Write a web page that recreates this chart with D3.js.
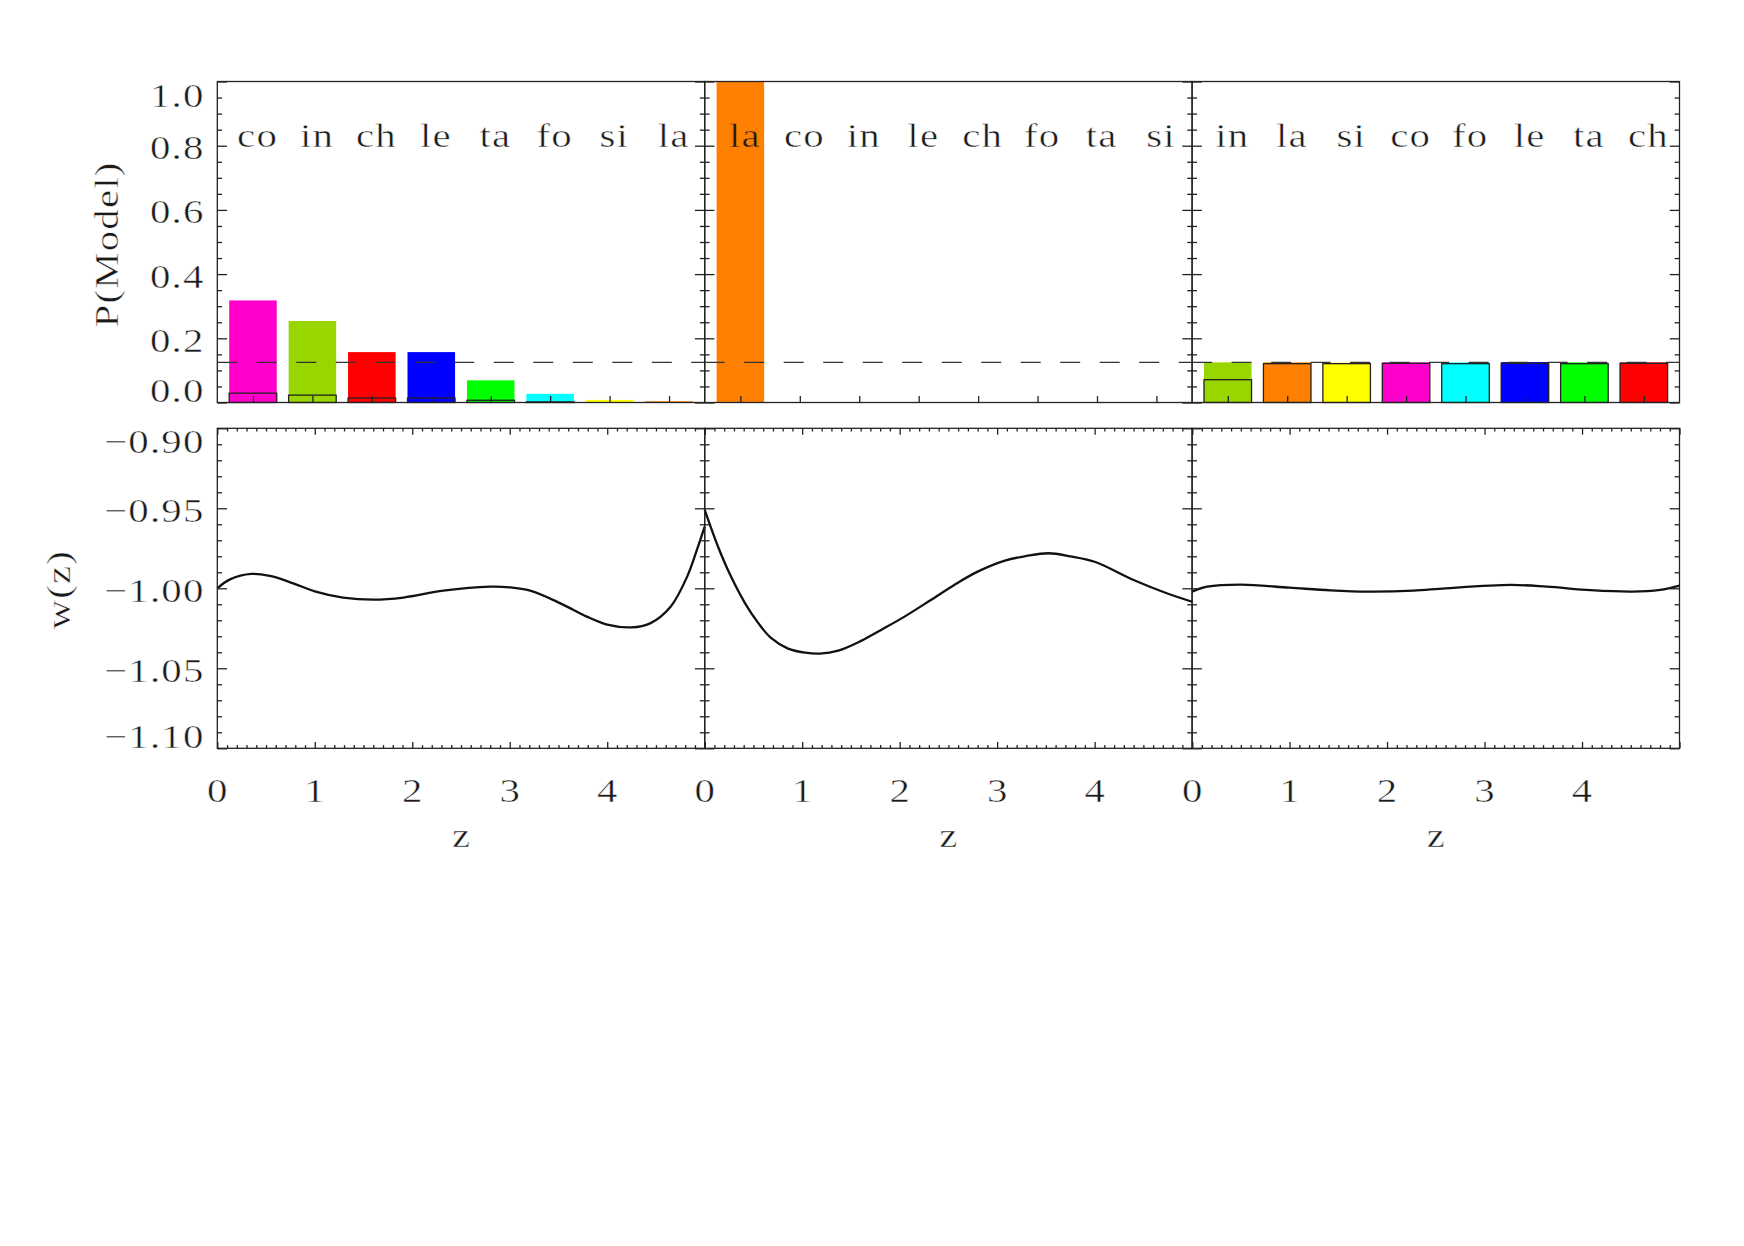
<!DOCTYPE html>
<html>
<head>
<meta charset="utf-8">
<script src="https://cdn.jsdelivr.net/npm/d3@7/dist/d3.min.js"></script>
<style>
  body { margin: 0; background: #fff; }
  text { font-family: "Liberation Serif", "DejaVu Serif", serif; fill: #1a1a1a; stroke-width: 0.5px; }
</style>
</head>
<body>
<div id="graph_holder"></div>
<script>
// models and their colours
var models = ["co", "in", "ch", "le", "ta", "fo", "si", "la"];
var modelColors = ["#ff00cc", "#99d600", "#ff0000", "#0000ff", "#00ff00", "#00ffff", "#ffff00", "#ff8000"];

// top row: posterior P(Model) per panel (filled) and the outlined bars
var order1 = ["co", "in", "ch", "le", "ta", "fo", "si", "la"];
var post1 = [0.318, 0.254, 0.157, 0.157, 0.069, 0.027, 0.008, 0.004];
var outl1 = [0.029, 0.023, 0.014, 0.014, 0.007, 0.002, 0, 0];

var order2 = ["la", "co", "in", "le", "ch", "fo", "ta", "si"];
var post2 = [1.0, 0, 0, 0, 0, 0, 0, 0];
var outl2 = [0, 0, 0, 0, 0, 0, 0, 0];

var order3 = ["in", "la", "si", "co", "fo", "le", "ta", "ch"];
var post3 = [0.125, 0.125, 0.124, 0.125, 0.125, 0.126, 0.125, 0.125];
var outl3 = [0.071, 0.121, 0.121, 0.122, 0.121, 0.122, 0.121, 0.122];

var priorLevel = 0.125;

// bottom row: w(z) curves
var z1 = [0, 0.13, 0.35, 0.54, 0.78, 1.0, 1.29, 1.6, 1.91, 2.32, 2.8, 3.0, 3.21, 3.52, 3.79, 4.0, 4.25, 4.44, 4.65, 4.82, 4.92, 5.0];
var w1 = [-1.000, -0.9944, -0.9910, -0.9923, -0.9969, -1.0019, -1.0058, -1.0071, -1.0058, -1.0015, -0.9990, -0.9994, -1.0015, -1.0094, -1.0177, -1.0227, -1.0244, -1.0219, -1.0115, -0.9927, -0.976, -0.9615];

var z2 = [0, 0.137, 0.27, 0.41, 0.55, 0.68, 0.855, 1.03, 1.18, 1.37, 1.61, 1.81, 2.05, 2.32, 2.56, 2.80, 3.08, 3.3, 3.525, 3.75, 4.0, 4.4, 4.74, 5.0];
var w2 = [-0.951, -0.974, -0.9927, -1.0089, -1.0218, -1.0310, -1.0377, -1.0402, -1.0408, -1.039, -1.0327, -1.026, -1.0177, -1.0073, -0.9979, -0.9896, -0.9827, -0.9798, -0.9781, -0.9800, -0.9834, -0.9948, -1.0031, -1.0084];

var z3 = [0, 0.154, 0.5, 1.0, 1.42, 1.8, 2.27, 2.6, 3.27, 3.64, 4.09, 4.51, 4.8, 5.0];
var w3 = [-1.0021, -0.999, -0.9977, -0.9996, -1.0013, -1.0021, -1.0015, -1.000, -0.9979, -0.999, -1.0012, -1.0021, -1.0010, -0.9983];

var pTicks = [0, 0.2, 0.4, 0.6, 0.8, 1.0];
var pLabels = ["0.0", "0.2", "0.4", "0.6", "0.8", "1.0"];
var wTicks = [-1.10, -1.05, -1.00, -0.95, -0.90];
var wLabels = ["\u22121.10", "\u22121.05", "\u22121.00", "\u22120.95", "\u22120.90"];
var zTicks = [0, 1, 2, 3, 4];
var zLabels = ["0", "1", "2", "3", "4"];

var panels = [
  {order: order1, post: post1, outl: outl1, z: z1, w: w1},
  {order: order2, post: post2, outl: outl2, z: z2, w: w2},
  {order: order3, post: post3, outl: outl3, z: z3, w: w3}
];

// layout
var width = 1744, height = 1246;
var left = 217.3, panelW = 487.4;
var topY0 = 81.5, topY1 = 402.5;
var botY0 = 428.3, botY1 = 748.3;
var labelY = 146.5;
var ink = "#222";
var fs = 34, ls = 1, sx = 1.2; // IDL hershey text is wide, stretch it

var svg = d3.select("#graph_holder").append("svg")
    .attr("width", width)
    .attr("height", height);
svg.append("rect").attr("width", width).attr("height", height).attr("fill", "#fff");

var pY = d3.scaleLinear().domain([0, 1]).range([topY1, topY0]);
var wY = d3.scaleLinear().domain([-1.10, -0.90]).range([botY1, botY0]);
var colorOf = d3.scaleOrdinal().domain(models).range(modelColors);

var pMinor = d3.range(0, 1.0001, 0.05).filter(function(v){ return Math.abs(v * 5 - Math.round(v * 5)) > 1e-6 });
var wMinor = d3.range(-1.10, -0.8999, 0.01).filter(function(v){ return Math.abs(v * 20 - Math.round(v * 20)) > 1e-6 });
var zMinor = d3.range(0, 5.0001, 0.1).filter(function(v){ return Math.abs(v - Math.round(v)) > 1e-6 });

// stretched text; anchor "middle"/"end" corrected for trailing letter spacing
// a thin stroke in the background colour makes the glyphs lighter
function label(x, y, str, anchor, rot, bg){
  var dx = anchor == "middle" ? ls / 2 : (anchor == "end" ? ls : 0);
  svg.append("text")
    .attr("transform", "translate(" + x + "," + y + ")" + (rot ? " rotate(" + rot + ")" : "") + " scale(" + sx + ",1)")
    .attr("x", dx)
    .attr("text-anchor", anchor)
    .attr("font-size", fs)
    .attr("letter-spacing", ls)
    .attr("stroke", bg || "#fff")
    .text(str);
}

function styleAxis(g){
  g.select(".domain").remove();
  g.selectAll(".tick line").attr("stroke", ink).attr("stroke-width", 1.3);
  g.selectAll(".tick text").remove();
}

// ticks pointing into the panel on both y sides
function yTicks(y, x0, x1, majors, minors, len){
  svg.append("g").attr("transform", "translate(" + x0 + ",0)")
    .call(d3.axisRight(y).tickValues(majors).tickSize(len).tickSizeOuter(0)).call(styleAxis);
  svg.append("g").attr("transform", "translate(" + x0 + ",0)")
    .call(d3.axisRight(y).tickValues(minors).tickSize(len / 2).tickSizeOuter(0)).call(styleAxis);
  svg.append("g").attr("transform", "translate(" + x1 + ",0)")
    .call(d3.axisLeft(y).tickValues(majors).tickSize(len).tickSizeOuter(0)).call(styleAxis);
  svg.append("g").attr("transform", "translate(" + x1 + ",0)")
    .call(d3.axisLeft(y).tickValues(minors).tickSize(len / 2).tickSizeOuter(0)).call(styleAxis);
}

var line = d3.line()
  .x(function(d){ return d[0] })
  .y(function(d){ return d[1] })
  .curve(d3.curveCatmullRom.alpha(0.5));

panels.forEach(function(p, k){
  var x0 = left + k * panelW, x1 = x0 + panelW;
  var barX = d3.scaleLinear().domain([-0.6, 7.6]).range([x0, x1]);
  var zX = d3.scaleLinear().domain([0, 5]).range([x0, x1]);

  // --- top: bars ---
  var g = svg.append("g");
  g.selectAll("rect.post").data(p.post).enter().append("rect")
    .filter(function(d){ return d > 0 })
    .attr("x", function(d, i){ return barX(i - 0.4) })
    .attr("width", function(d, i){ return barX(i + 0.4) - barX(i - 0.4) })
    .attr("y", function(d){ return pY(Math.min(d, 1)) })
    .attr("height", function(d){ return pY(0) - pY(Math.min(d, 1)) })
    .attr("fill", function(d, i){ return colorOf(p.order[i]) });
  g.selectAll("rect.outl").data(p.outl).enter().append("rect")
    .filter(function(d){ return d > 0.0015 })
    .attr("x", function(d, i){ return barX(i - 0.4) })
    .attr("width", function(d, i){ return barX(i + 0.4) - barX(i - 0.4) })
    .attr("y", function(d){ return pY(d) })
    .attr("height", function(d){ return pY(0) - pY(d) })
    .attr("fill", function(d, i){ return colorOf(p.order[i]) })
    .attr("stroke", ink).attr("stroke-width", 1.3);

  // equal prior line
  svg.append("line")
    .attr("x1", x0).attr("x2", x1)
    .attr("y1", pY(priorLevel)).attr("y2", pY(priorLevel))
    .attr("stroke", "#333").attr("stroke-width", 1.3)
    .attr("stroke-dasharray", "20,19.5");

  // model names (on top of a tall bar the stroke takes the bar colour)
  p.order.forEach(function(m, i){
    var bg = pY(p.post[i]) < labelY ? colorOf(m) : "#fff";
    label(barX(i) + 4, labelY, m, "middle", 0, bg);
  });

  // axes of the top panel
  yTicks(pY, x0, x1, pTicks, pMinor, 9.75);
  svg.append("g").attr("transform", "translate(0," + topY1 + ")")
    .call(d3.axisTop(barX).tickValues(d3.range(0, 8)).tickSize(6.4).tickSizeOuter(0)).call(styleAxis);
  svg.append("rect").attr("x", x0).attr("y", topY0).attr("width", panelW).attr("height", topY1 - topY0)
    .attr("fill", "none").attr("stroke", ink).attr("stroke-width", 1.3);

  // --- bottom: w(z) ---
  var pts = p.z.map(function(z, i){ return [zX(z), wY(p.w[i])] });
  svg.append("path").attr("d", line(pts))
    .attr("fill", "none").attr("stroke", "#111").attr("stroke-width", 2.3);

  yTicks(wY, x0, x1, wTicks, wMinor, 9.75);
  svg.append("g").attr("transform", "translate(0," + botY1 + ")")
    .call(d3.axisTop(zX).tickValues(zTicks.concat([5])).tickSize(6.4).tickSizeOuter(0)).call(styleAxis);
  svg.append("g").attr("transform", "translate(0," + botY1 + ")")
    .call(d3.axisTop(zX).tickValues(zMinor).tickSize(3.2).tickSizeOuter(0)).call(styleAxis);
  svg.append("g").attr("transform", "translate(0," + botY0 + ")")
    .call(d3.axisBottom(zX).tickValues(zTicks.concat([5])).tickSize(6.4).tickSizeOuter(0)).call(styleAxis);
  svg.append("g").attr("transform", "translate(0," + botY0 + ")")
    .call(d3.axisBottom(zX).tickValues(zMinor).tickSize(3.2).tickSizeOuter(0)).call(styleAxis);
  svg.append("rect").attr("x", x0).attr("y", botY0).attr("width", panelW).attr("height", botY1 - botY0)
    .attr("fill", "none").attr("stroke", ink).attr("stroke-width", 1.3);

  // z tick labels and title
  zTicks.forEach(function(v, i){ label(zX(v), 802, zLabels[i], "middle") });
  label((x0 + x1) / 2, 847, "z", "middle");
});

// y tick labels, first and last pushed inside the frame like IDL does
function yLabels(y, ticks, labels, top, bottom){
  ticks.forEach(function(v, i){
    label(203.3, Math.max(top + 25, Math.min(bottom - 0.5, y(v) + 13.5)), labels[i], "end");
  });
}
yLabels(pY, pTicks, pLabels, topY0, topY1);
yLabels(wY, wTicks, wLabels, botY0, botY1);

label(117.5, (topY0 + topY1) / 2 + 3, "P(Model)", "middle", -90);
label(69.5, (botY0 + botY1) / 2 + 2, "w(z)", "middle", -90);
</script>
</body>
</html>
